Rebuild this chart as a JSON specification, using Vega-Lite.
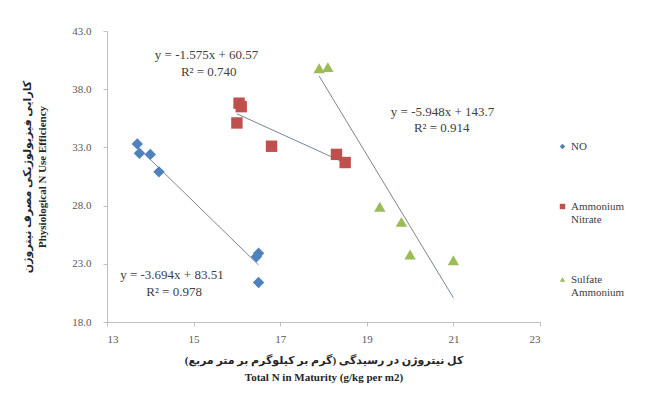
{
  "$schema": "https://vega.github.io/schema/vega-lite/v6.json",
  "width": 433,
  "height": 291,
  "autosize": {"type": "none"},
  "padding": {"left": 107, "top": 31, "right": 130, "bottom": 86},
  "background": "white",
  "config": {
    "view": {"stroke": null},
    "font": "Liberation Serif"
  },
  "datasets": {
    "points": [
      {"series": "NO", "n": 13.7, "e": 33.3},
      {"series": "NO", "n": 13.75, "e": 32.5},
      {"series": "NO", "n": 14.0, "e": 32.4},
      {"series": "NO", "n": 14.2, "e": 30.9},
      {"series": "NO", "n": 16.45, "e": 23.6},
      {"series": "NO", "n": 16.5, "e": 23.9},
      {"series": "NO", "n": 16.5, "e": 21.4},
      {"series": "Ammonium Nitrate", "n": 16.05, "e": 36.8},
      {"series": "Ammonium Nitrate", "n": 16.1, "e": 36.5},
      {"series": "Ammonium Nitrate", "n": 16.0, "e": 35.1},
      {"series": "Ammonium Nitrate", "n": 16.8, "e": 33.1},
      {"series": "Ammonium Nitrate", "n": 18.3, "e": 32.4},
      {"series": "Ammonium Nitrate", "n": 18.5, "e": 31.7},
      {"series": "Sulfate Ammonium", "n": 17.9, "e": 39.8},
      {"series": "Sulfate Ammonium", "n": 18.1, "e": 39.9},
      {"series": "Sulfate Ammonium", "n": 19.3, "e": 27.9},
      {"series": "Sulfate Ammonium", "n": 19.8, "e": 26.6},
      {"series": "Sulfate Ammonium", "n": 20.0, "e": 23.8},
      {"series": "Sulfate Ammonium", "n": 21.0, "e": 23.3}
    ],
    "labels": [
      {"n": 15.3, "e": 40.94, "t": "y = -1.575x + 60.57"},
      {"n": 15.35, "e": 39.5, "t": "R² = 0.740"},
      {"n": 20.75, "e": 36.04, "t": "y = -5.948x + 143.7"},
      {"n": 20.73, "e": 34.67, "t": "R² = 0.914"},
      {"n": 14.5, "e": 22.04, "t": "y = -3.694x + 83.51"},
      {"n": 14.55, "e": 20.58, "t": "R² = 0.978"}
    ]
  },
  "encoding": {
    "x": {
      "field": "n", "type": "quantitative",
      "scale": {"domain": [13, 23], "nice": false, "zero": false},
      "axis": {
        "values": [13, 15, 17, 19, 21, 23],
        "grid": false,
        "domainColor": "#bfbfbf",
        "tickColor": "#bfbfbf",
        "tickSize": 4,
        "labelColor": "#595959",
        "labelFontSize": 11,
        "labelPadding": 7,
        "title": ["کل نیتروژن در رسیدگی (گرم بر کیلوگرم بر متر مربع)", "Total N in Maturity (g/kg per m2)"],
        "titleFont": "Liberation Serif, DejaVu Sans",
        "titleFontSize": 11,
        "titleFontWeight": "bold",
        "titleColor": "#262626",
        "titlePadding": 10,
        "titleLineHeight": 17
      }
    },
    "y": {
      "field": "e", "type": "quantitative",
      "scale": {"domain": [18, 43], "nice": false, "zero": false},
      "axis": {
        "values": [18, 23, 28, 33, 38, 43],
        "format": ".1f",
        "grid": false,
        "domainColor": "#bfbfbf",
        "tickColor": "#bfbfbf",
        "tickSize": 4,
        "labelColor": "#595959",
        "labelFontSize": 11,
        "labelPadding": 12,
        "title": ["کارایی فیزیولوژیکی مصرف نیتروژن", "Physiological N Use Efficiency"],
        "titleFont": "Liberation Serif, DejaVu Sans",
        "titleFontSize": 11,
        "titleFontWeight": "bold",
        "titleColor": "#262626",
        "titlePadding": 24,
        "titleLineHeight": 15
      }
    }
  },
  "layer": [
    {
      "data": {"name": "points"},
      "transform": [{"regression": "e", "on": "n", "groupby": ["series"]}],
      "mark": {"type": "line", "color": "#7a8594", "strokeWidth": 1},
      "encoding": {"detail": {"field": "series"}}
    },
    {
      "data": {"name": "points"},
      "mark": {"type": "point", "filled": true, "opacity": 1, "size": 130},
      "encoding": {
        "color": {
          "field": "series", "type": "nominal",
          "scale": {"domain": ["NO", "Ammonium Nitrate", "Sulfate Ammonium"], "range": ["#4f81bd", "#c0504d", "#9bbb59"]},
          "legend": {
            "title": null,
            "orient": "none",
            "legendX": 450,
            "legendY": 110,
            "symbolSize": 30,
            "labelFontSize": 11,
            "labelColor": "#404040",
            "labelExpr": "split(datum.label, ' ')",
            "rowPadding": 48,
            "labelOffset": 3
          }
        },
        "shape": {
          "field": "series", "type": "nominal",
          "scale": {"domain": ["NO", "Ammonium Nitrate", "Sulfate Ammonium"], "range": ["diamond", "square", "triangle-up"]}
        }
      }
    },
    {
      "data": {"name": "labels"},
      "mark": {"type": "text", "fontSize": 13, "color": "#404040", "align": "center", "baseline": "middle"},
      "encoding": {"text": {"field": "t"}}
    }
  ]
}
